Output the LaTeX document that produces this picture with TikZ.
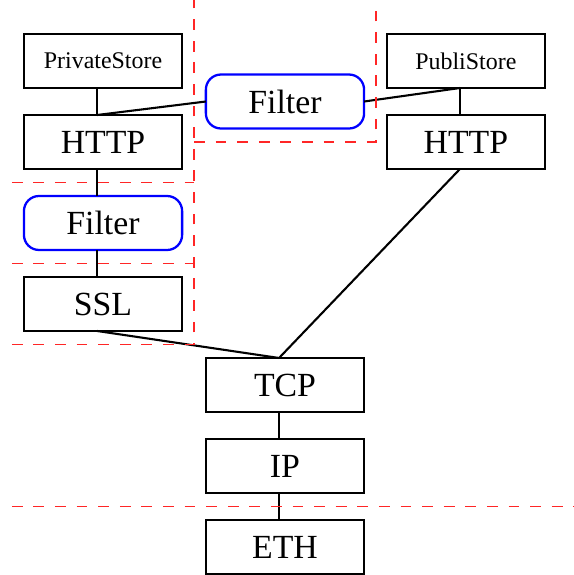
\documentclass[tikz,border=0pt]{standalone}
\usepackage{fontspec}
\setmainfont{Liberation Serif}
\usetikzlibrary{positioning}

\tikzset{
  layer/.style={draw, line width=1.2pt, minimum width=2.93cm, minimum height=1cm,
    inner sep=0pt, outer sep=0pt, font=\fontsize{17.8}{20}\selectfont},
  store/.style={layer, font=\fontsize{12.6}{15}\selectfont},
  filter/.style={layer, draw=blue, rounded corners=0.28cm},
  link/.style={line width=1.1pt},
  zone/.style={red!85, line width=1pt, dash pattern=on 0.2cm off 0.2cm},
}

\begin{document}
\begin{tikzpicture}[node distance=0.5cm]
  \useasboundingbox (-5.278,-0.519) rectangle (5.352,10.13);

  % private stack
  \node[store] (pstore) at (-3.37,9) {PrivateStore};
  \node[layer, below=of pstore] (lhttp) {HTTP};
  \node[filter, below=of lhttp] (lfilter) {Filter};
  \node[layer, below=of lfilter] (ssl) {SSL};

  % public stack
  \node[store] (ustore) at (3.35,9) {PubliStore};
  \node[layer, below=of ustore] (rhttp) {HTTP};
  \node[filter] (tfilter) at (0,8.25) {Filter};

  % transport
  \node[layer] (tcp) at (0,3) {TCP};
  \node[layer, below=of tcp] (ip) {IP};
  \node[layer, below=of ip] (eth) {ETH};

  \draw[link] ([xshift=-0.11cm]pstore.south) -- ([xshift=-0.11cm]lhttp.north);
  \draw[link] ([xshift=-0.11cm]lhttp.south) -- ([xshift=-0.11cm]lfilter.north);
  \draw[link] ([xshift=-0.11cm]lfilter.south) -- ([xshift=-0.11cm]ssl.north);
  \draw[link] ([xshift=-0.11cm]lhttp.north) -- (tfilter.west);
  \draw[link] (tfilter.east) -- ([xshift=-0.11cm]ustore.south);
  \draw[link] ([xshift=-0.11cm]ustore.south) -- ([xshift=-0.11cm]rhttp.north);
  \draw[link] ([xshift=-0.11cm]ssl.south) -- ([xshift=-0.11cm]tcp.north);
  \draw[link] ([xshift=-0.11cm]rhttp.south) -- ([xshift=-0.11cm]tcp.north);
  \draw[link] ([xshift=-0.11cm]tcp.south) -- ([xshift=-0.11cm]ip.north);
  \draw[link] ([xshift=-0.11cm]ip.south) -- ([xshift=-0.11cm]eth.north);

  % zones
  \draw[zone] (-5.06,6.75) -- (-1.685,6.75);
  \draw[zone] (-5.06,5.25) -- (-1.685,5.25);
  \draw[zone] (-5.06,3.75) -- (-1.685,3.75) -- (-1.685,10.13);
  \draw[zone] (-1.685,7.5) -- (1.68,7.5) -- (1.68,10.13);
  \draw[zone] (-5.06,0.75) -- (5.352,0.75);
\end{tikzpicture}
\end{document}
